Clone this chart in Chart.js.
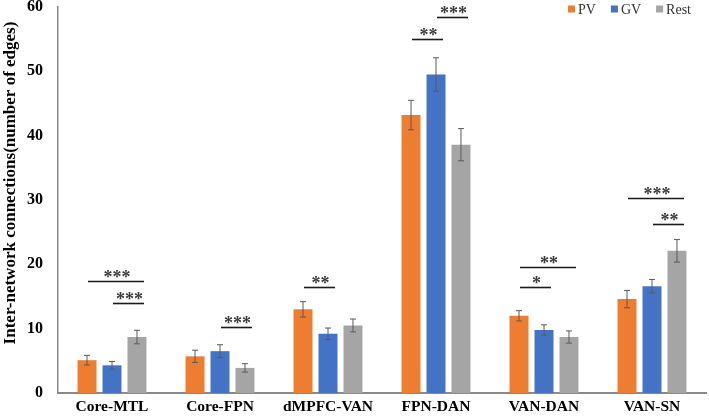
<!DOCTYPE html>
<html>
<head>
<meta charset="utf-8">
<script src="https://cdn.jsdelivr.net/npm/chart.js@4"></script>
<style>
  html, body { margin: 0; padding: 0; background: #fff; }
  #wrap { width: 709px; height: 418px; }
</style>
</head>
<body>
<div id="wrap"><canvas id="edgeChart" width="709" height="418"></canvas></div>
<script>
// --- data
const categories = ['Core-MTL', 'Core-FPN', 'dMPFC-VAN', 'FPN-DAN', 'VAN-DAN', 'VAN-SN'];
const seriesNames = ['PV', 'GV', 'Rest'];
const pvValues   = [5.1, 5.7, 13.0, 43.2, 12.0, 14.6];
const gvValues   = [4.3, 6.5, 9.2, 49.5, 9.8, 16.6];
const restValues = [8.7, 3.9, 10.5, 38.6, 8.7, 22.1];
const pvErr   = [0.75, 0.95, 1.2, 2.3, 0.8, 1.35];
const gvErr   = [0.6, 1.0, 0.9, 2.6, 0.8, 1.05];
const restErr = [1.05, 0.65, 1.0, 2.5, 0.95, 1.75];
const yTicks = [0, 10, 20, 30, 40, 50, 60];

// significance bars: category index, first series, last series, height, stars
const sigCat   = [0, 0, 1, 2, 3, 3, 4, 4, 5, 5];
const sigFrom  = [0, 1, 1, 0, 0, 1, 0, 0, 0, 1];
const sigTo    = [2, 2, 2, 1, 1, 2, 2, 1, 2, 2];
const sigY     = [17.4, 14.0, 10.3, 16.5, 55.0, 58.5, 19.6, 16.5, 30.3, 26.3];
const sigLabel = ['***', '***', '***', '**', '**', '***', '**', '*', '***', '**'];

const colors = ['#ED7D31', '#4472C4', '#A5A5A5'];
const errors = [pvErr, gvErr, restErr];
const serif = "'Liberation Serif', 'Times New Roman', serif";

// error bars drawn on top of each bar
const errorBars = {
    id: 'errorBars',
    afterDatasetsDraw(chart) {
        const ctx = chart.ctx;
        const y = chart.scales.y;
        ctx.save();
        ctx.strokeStyle = '#5a5a5a';
        ctx.lineWidth = 1;
        chart.data.datasets.forEach((ds, i) => {
            chart.getDatasetMeta(i).data.forEach((bar, j) => {
                const v = ds.data[j], e = errors[i][j];
                const top = y.getPixelForValue(v + e);
                const bot = y.getPixelForValue(v - e);
                ctx.beginPath();
                ctx.moveTo(bar.x, top); ctx.lineTo(bar.x, bot);
                ctx.moveTo(bar.x - 3, top); ctx.lineTo(bar.x + 3, top);
                ctx.moveTo(bar.x - 3, bot); ctx.lineTo(bar.x + 3, bot);
                ctx.stroke();
            });
        });
        ctx.restore();
    }
};

// significance lines with stars
const sigMarks = {
    id: 'sigMarks',
    afterDatasetsDraw(chart) {
        const ctx = chart.ctx;
        const y = chart.scales.y;
        ctx.save();
        sigCat.forEach((c, k) => {
            const x1 = chart.getDatasetMeta(sigFrom[k]).data[c].x + 1;
            const x2 = chart.getDatasetMeta(sigTo[k]).data[c].x + 7;
            const py = Math.round(y.getPixelForValue(sigY[k])) + 0.5;
            ctx.strokeStyle = '#1a1a1a';
            ctx.lineWidth = 1.6;
            ctx.beginPath();
            ctx.moveTo(x1, py); ctx.lineTo(x2, py);
            ctx.stroke();
            ctx.fillStyle = '#3a3a3a';
            ctx.font = 'bold 18px ' + serif;
            ctx.textAlign = 'center';
            ctx.textBaseline = 'alphabetic';
            ctx.fillText(sigLabel[k], (x1 + x2) / 2 + 1, py + 1);
        });
        ctx.restore();
    }
};

// legend in the top right corner
const cornerLegend = {
    id: 'cornerLegend',
    afterDraw(chart) {
        const ctx = chart.ctx;
        ctx.save();
        ctx.font = '14px ' + serif;
        ctx.textBaseline = 'middle';
        ctx.textAlign = 'left';
        const box = 7, gap = 3, itemGap = 15, yMid = 9;
        const widths = seriesNames.map(n => box + gap + ctx.measureText(n).width);
        let x = 691 - widths.reduce((a, b) => a + b, 0) - itemGap * (seriesNames.length - 1);
        seriesNames.forEach((n, i) => {
            ctx.fillStyle = colors[i];
            ctx.fillRect(x, yMid - box / 2, box, box);
            ctx.fillStyle = '#333';
            ctx.fillText(n, x + box + gap, yMid + 1);
            x += widths[i] + itemGap;
        });
        ctx.restore();
    }
};

new Chart(document.getElementById('edgeChart'), {
    type: 'bar',
    data: {
        labels: categories,
        datasets: [
            { label: seriesNames[0], data: pvValues, backgroundColor: colors[0] },
            { label: seriesNames[1], data: gvValues, backgroundColor: colors[1] },
            { label: seriesNames[2], data: restValues, backgroundColor: colors[2] }
        ]
    },
    options: {
        responsive: false,
        animation: false,
        devicePixelRatio: 1,
        categoryPercentage: 0.694,
        barPercentage: 0.76,
        layout: { padding: { left: 0, right: 3, top: 7, bottom: 0 } },
        plugins: {
            legend: { display: false },
            tooltip: { enabled: false }
        },
        scales: {
            x: {
                grid: { display: false, drawTicks: false },
                border: { display: true, color: '#8a8a8a', width: 2 },
                ticks: {
                    color: '#000',
                    padding: 5,
                    font: { family: serif, size: 15.5, weight: 'bold' }
                },
                afterFit: s => { s.height = 25; s.paddingLeft = 0; s.paddingRight = 0; }
            },
            y: {
                min: 0,
                max: 60,
                afterBuildTicks: s => { s.ticks = yTicks.map(v => ({ value: v })); },
                grid: { display: false, drawTicks: false },
                border: { display: true, color: '#8a8a8a', width: 1.5 },
                ticks: {
                    color: '#000',
                    padding: 15,
                    font: { family: serif, size: 16, weight: 'bold' }
                },
                title: {
                    display: true,
                    text: '        Inter-network connections(number of edges)',
                    color: '#000',
                    padding: 0,
                    font: { family: serif, size: 17, weight: 'bold' }
                },
                afterFit: s => { s.width = 58; s.paddingTop = 0; s.paddingBottom = 0; }
            }
        }
    },
    plugins: [errorBars, sigMarks, cornerLegend]
});
</script>
</body>
</html>
